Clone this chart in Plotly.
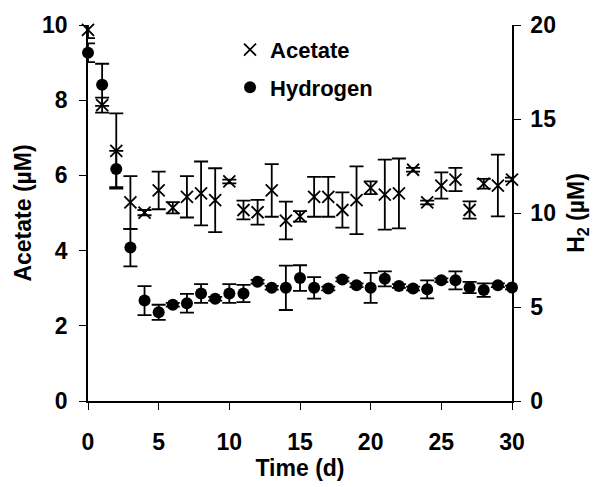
import plotly.graph_objects as go

days = list(range(31))
acetate = [9.87, 7.87, 6.65, 5.28, 5.01, 5.60, 5.14, 5.43, 5.52, 5.34,
           5.84, 5.08, 5.02, 5.60, 4.80, 4.91, 5.43, 5.43, 5.08, 5.34,
           5.67, 5.49, 5.52, 6.15, 5.28, 5.73, 5.89, 5.08, 5.78, 5.73, 5.89]
acetate_err = [0.22, 0.20, 1.00, 0.70, 0.07, 0.50, 0.15, 0.55, 0.85, 0.85,
               0.05, 0.25, 0.33, 0.70, 0.50, 0.14, 0.53, 0.53, 0.47, 0.90,
               0.17, 0.93, 0.93, 0.05, 0.05, 0.35, 0.31, 0.23, 0.13, 0.82, 0.05]
hydrogen = [18.52, 16.82, 12.34, 8.16, 5.34, 4.72, 5.12, 5.20, 5.72, 5.44,
            5.72, 5.72, 6.34, 6.02, 6.02, 6.54, 6.02, 5.98, 6.46, 6.16,
            6.02, 6.50, 6.12, 5.98, 5.94, 6.42, 6.42, 6.04, 5.90, 6.16, 6.04]
hydrogen_err = [0.50, 1.12, 0.96, 1.00, 0.77, 0.40, 0.10, 0.50, 0.50, 0.10,
                0.50, 0.46, 0.10, 0.10, 1.18, 0.68, 0.57, 0.10, 0.10, 0.10,
                0.80, 0.40, 0.10, 0.10, 0.48, 0.10, 0.48, 0.30, 0.36, 0.10, 0.10]

left_ticks = [0, 2, 4, 6, 8, 10]
right_ticks = [0, 5, 10, 15, 20]
x_ticks = [0, 5, 10, 15, 20, 25, 30]

FONT = "Liberation Sans, Arial, sans-serif"
tickfont = dict(family=FONT, size=23, color="black", weight="bold")

fig = go.Figure()
fig.add_trace(go.Scatter(
    x=days, y=acetate, name="Acetate", mode="markers",
    marker=dict(symbol="x-thin-open", size=12, color="black",
                line=dict(color="black", width=1.8)),
    error_y=dict(type="data", array=acetate_err, visible=True,
                 color="black", thickness=1.8, width=7),
    cliponaxis=False, legendgroup="a",
))
fig.add_trace(go.Scatter(
    x=days, y=hydrogen, name="Hydrogen", mode="markers", yaxis="y2",
    marker=dict(symbol="circle", size=12, color="black"),
    error_y=dict(type="data", array=hydrogen_err, visible=True,
                 color="black", thickness=1.8, width=7),
    cliponaxis=False, legendgroup="h",
))

fig.update_layout(
    width=598, height=487,
    margin=dict(l=88, r=86, t=20, b=84),
    paper_bgcolor="white", plot_bgcolor="white",
    font=dict(family=FONT, size=23, color="black", weight="bold"),
    showlegend=True,
    legend=dict(x=0.335, y=0.99, xanchor="left", yanchor="top",
                bgcolor="rgba(0,0,0,0)", tracegroupgap=6,
                font=dict(family=FONT, size=22, color="black", weight="bold")),
    xaxis=dict(range=[0, 30], tickvals=x_ticks, ticks="outside", ticklen=7,
               tickwidth=1, tickcolor="black", showline=True, linecolor="black",
               linewidth=1.5, showgrid=False, zeroline=False, tickfont=tickfont,
               ticklabelstandoff=13,
               title=dict(text="Time (d)", font=tickfont, standoff=4)),
    yaxis=dict(range=[0, 10], tickvals=left_ticks, ticks="outside", ticklen=7,
               tickwidth=1, tickcolor="black", showline=True, linecolor="black",
               linewidth=1.5, showgrid=False, zeroline=False, tickfont=tickfont,
               ticklabelstandoff=7,
               title=dict(text="Acetate (µM)", font=tickfont, standoff=4)),
    yaxis2=dict(range=[0, 20], tickvals=right_ticks, ticks="outside", ticklen=7,
                tickwidth=1, tickcolor="black", showline=True, linecolor="black",
                linewidth=1.5, showgrid=False, zeroline=False, tickfont=tickfont,
                overlaying="y", side="right", anchor="x", ticklabelstandoff=5,
                title=dict(text="H<sub>2</sub> (µM)", font=tickfont, standoff=13)),
    xaxis2=dict(range=[0, 30], tickvals=x_ticks, ticks="inside", ticklen=7,
                tickwidth=1, tickcolor="black", showticklabels=False,
                showline=False, showgrid=False, zeroline=False,
                overlaying="x", side="bottom", anchor="y"),
    xaxis3=dict(range=[0, 30], ticks="", showticklabels=False,
                showline=True, linecolor="#808080", linewidth=1.5,
                showgrid=False, zeroline=False,
                overlaying="x", side="top", anchor="y"),
    yaxis3=dict(range=[0, 10], tickvals=left_ticks, ticks="inside", ticklen=7,
                tickwidth=1, tickcolor="black", showticklabels=False,
                showline=False, showgrid=False, zeroline=False,
                overlaying="y", side="left", anchor="x"),
    yaxis4=dict(range=[0, 20], tickvals=right_ticks, ticks="inside", ticklen=7,
                tickwidth=1, tickcolor="black", showticklabels=False,
                showline=False, showgrid=False, zeroline=False,
                overlaying="y", side="right", anchor="x"),
)

fig.write_html("out.html")
